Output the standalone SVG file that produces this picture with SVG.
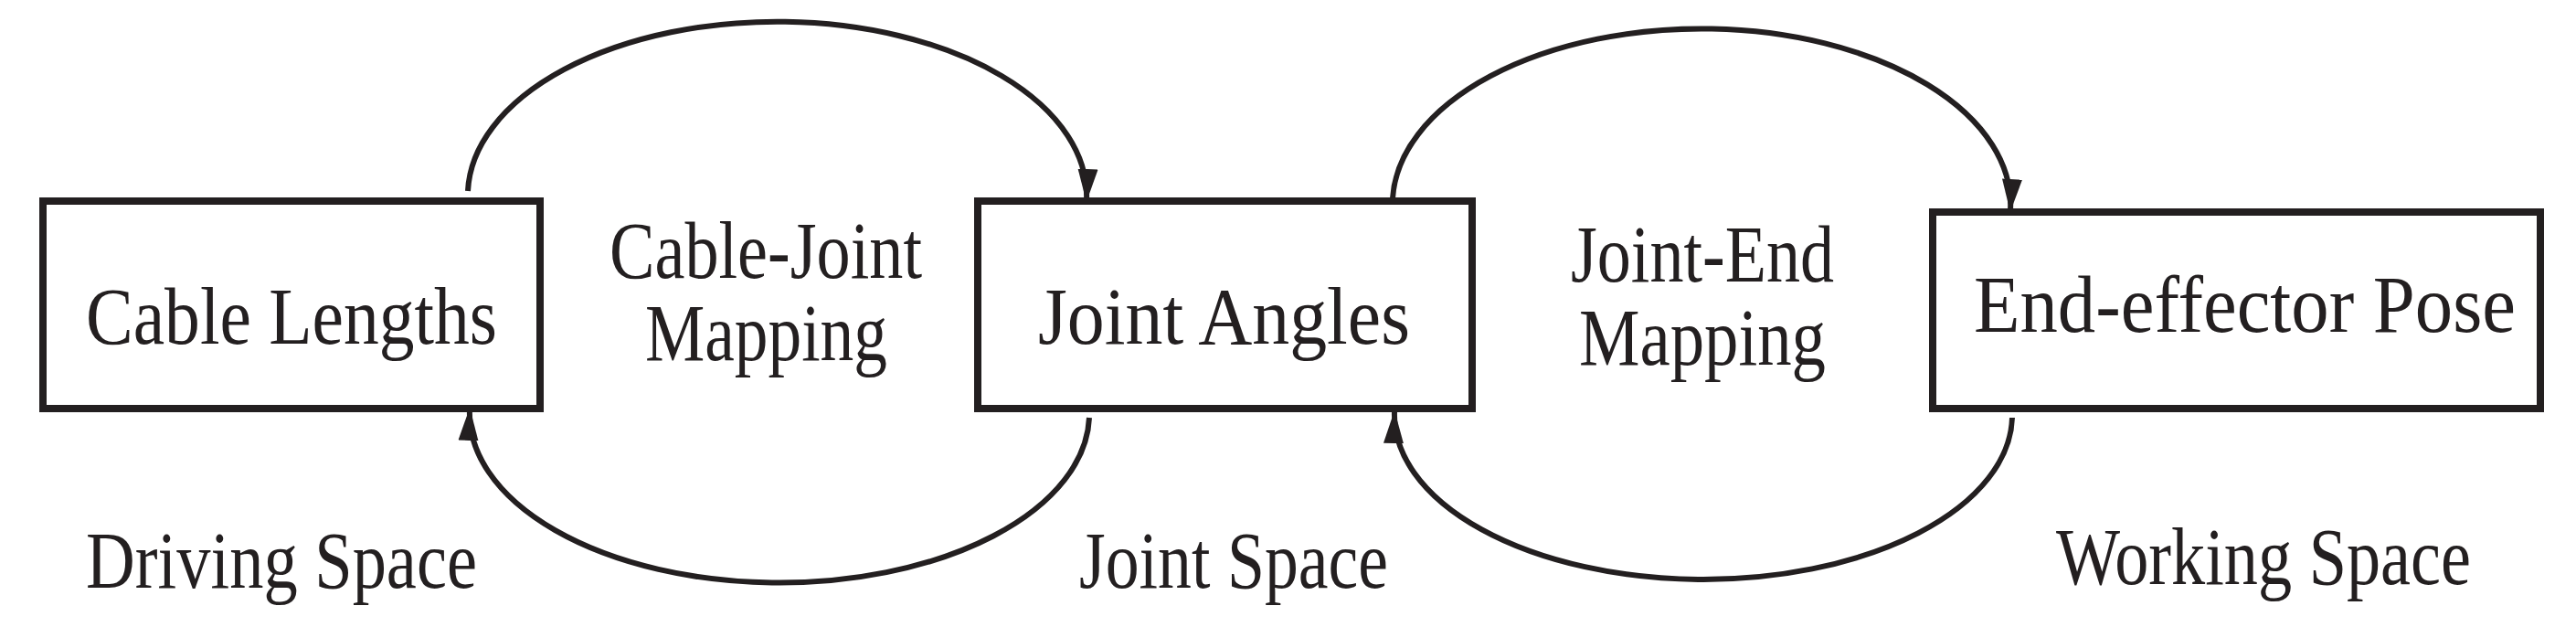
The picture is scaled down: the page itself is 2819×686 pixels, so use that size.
<svg xmlns="http://www.w3.org/2000/svg" width="2819" height="686" viewBox="0 0 2819 686">
<style>
.box{fill:#fff;stroke:#231f20;stroke-width:8}
.t{font-family:"Liberation Serif","Times New Roman",serif;font-size:88px;fill:#231f20}
.c{fill:none;stroke:#231f20;stroke-width:6}
</style>
<defs>
<marker id="ah" markerUnits="userSpaceOnUse" markerWidth="36" markerHeight="24" refX="34" refY="12" orient="auto" viewBox="0 0 36 24">
<path d="M0,1 L36,12 L0,23 z" fill="#231f20"/>
</marker>
</defs>
<rect width="2819" height="686" fill="#fff"/>
<g id="connectors">
<path class="c" d="M512,209 A338 190 0 0 1 1189,219" marker-end="url(#ah)"/>
<path class="c" d="M1192,457 A339 185 0 0 1 514,448" marker-end="url(#ah)"/>
<path class="c" d="M1524,217 A338 192 0 0 1 2200,230" marker-end="url(#ah)"/>
<path class="c" d="M2202,457 A338 180 0 0 1 1526,451" marker-end="url(#ah)"/>
</g>
<g id="cable-lengths">
<rect class="box" x="47" y="220" width="544" height="227"/>
<text class="t" x="94" y="376" textLength="450" lengthAdjust="spacingAndGlyphs">Cable Lengths</text>
</g>
<g id="joint-angles">
<rect class="box" x="1070" y="220" width="541" height="227"/>
<text class="t" x="1136" y="376" textLength="407" lengthAdjust="spacingAndGlyphs">Joint Angles</text>
</g>
<g id="end-effector-pose">
<rect class="box" x="2115" y="232" width="665" height="215"/>
<text class="t" x="2160" y="363" textLength="593" lengthAdjust="spacingAndGlyphs">End-effector Pose</text>
</g>
<g id="labels">
<text class="t" x="667" y="304" textLength="342" lengthAdjust="spacingAndGlyphs">Cable-Joint</text>
<text class="t" x="706" y="394" textLength="265" lengthAdjust="spacingAndGlyphs">Mapping</text>
<text class="t" x="1719" y="308" textLength="288" lengthAdjust="spacingAndGlyphs">Joint-End</text>
<text class="t" x="1728" y="399" textLength="270" lengthAdjust="spacingAndGlyphs">Mapping</text>
<text class="t" x="94" y="643" textLength="428" lengthAdjust="spacingAndGlyphs">Driving Space</text>
<text class="t" x="1181" y="643" textLength="338" lengthAdjust="spacingAndGlyphs">Joint Space</text>
<text class="t" x="2250" y="639" textLength="454" lengthAdjust="spacingAndGlyphs">Working Space</text>
</g>
</svg>
